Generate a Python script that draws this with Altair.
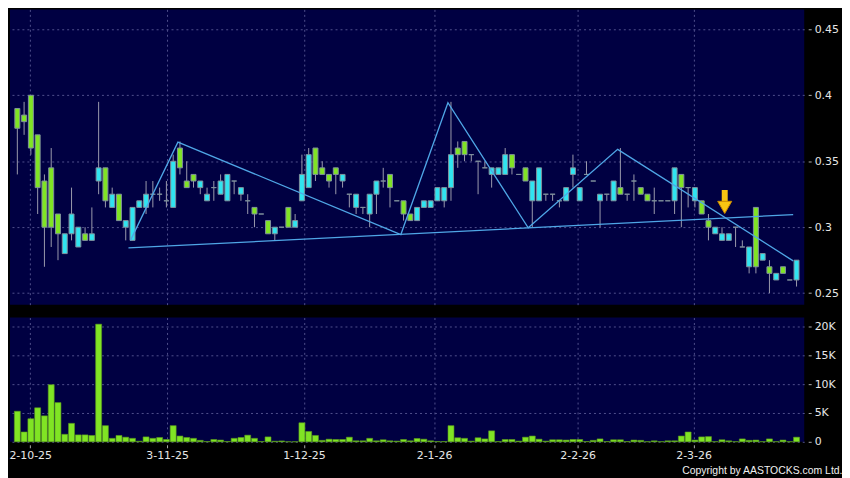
import altair as alt
import pandas as pd

# ---------------- data ----------------
opens = [0.39, 0.385, 0.40, 0.37, 0.335, 0.345, 0.31, 0.28, 0.295, 0.285,
         0.295, 0.29, 0.335, 0.345, 0.315, 0.325, 0.30, 0.29, 0.315, 0.315,
         0.325, 0.325, 0.32, 0.315, 0.36, 0.335, 0.34, 0.33, 0.32, 0.33,
         0.325, 0.32, 0.335, 0.325, 0.32, 0.315, 0.31, 0.305, 0.295, 0.30,
         0.315, 0.30, 0.32, 0.33, 0.36, 0.345, 0.34, 0.345, 0.335, 0.325,
         0.315, 0.315, 0.31, 0.325, 0.335, 0.34, 0.32, 0.32, 0.31, 0.305,
         0.315, 0.315, 0.32, 0.32, 0.33, 0.36, 0.365, 0.355, 0.35, 0.345,
         0.34, 0.34, 0.34, 0.355, 0.34, 0.345, 0.32, 0.32, 0.325, 0.325,
         0.32, 0.32, 0.34, 0.32, 0.34, 0.335, 0.32, 0.325, 0.32, 0.33,
         0.325, 0.335, 0.33, 0.325, 0.32, 0.32, 0.32, 0.32, 0.34, 0.33,
         0.32, 0.32, 0.305, 0.295, 0.29, 0.29, 0.30, 0.285, 0.27, 0.315,
         0.275, 0.27, 0.26, 0.27, 0.26, 0.26]
highs = [0.39, 0.395, 0.40, 0.37, 0.34, 0.36, 0.31, 0.295, 0.33, 0.30,
         0.30, 0.315, 0.395, 0.345, 0.33, 0.325, 0.305, 0.315, 0.32, 0.335,
         0.335, 0.33, 0.335, 0.355, 0.365, 0.35, 0.34, 0.335, 0.33, 0.335,
         0.34, 0.34, 0.335, 0.33, 0.325, 0.315, 0.31, 0.305, 0.30, 0.30,
         0.315, 0.31, 0.355, 0.36, 0.36, 0.35, 0.34, 0.345, 0.34, 0.325,
         0.325, 0.315, 0.325, 0.335, 0.345, 0.34, 0.32, 0.32, 0.31, 0.315,
         0.32, 0.32, 0.33, 0.33, 0.395, 0.365, 0.365, 0.355, 0.35, 0.35,
         0.345, 0.345, 0.36, 0.355, 0.34, 0.345, 0.335, 0.345, 0.325, 0.325,
         0.32, 0.33, 0.355, 0.33, 0.35, 0.335, 0.325, 0.325, 0.335, 0.36,
         0.325, 0.34, 0.33, 0.325, 0.33, 0.32, 0.32, 0.345, 0.34, 0.33,
         0.33, 0.32, 0.31, 0.30, 0.30, 0.295, 0.30, 0.29, 0.285, 0.315,
         0.28, 0.275, 0.265, 0.27, 0.26, 0.275]
lows = [0.34, 0.37, 0.355, 0.31, 0.27, 0.285, 0.275, 0.28, 0.29, 0.285,
        0.29, 0.29, 0.325, 0.315, 0.315, 0.305, 0.29, 0.29, 0.315, 0.31,
        0.315, 0.32, 0.315, 0.315, 0.34, 0.33, 0.33, 0.325, 0.32, 0.32,
        0.325, 0.32, 0.325, 0.32, 0.31, 0.30, 0.31, 0.295, 0.29, 0.30,
        0.30, 0.30, 0.32, 0.33, 0.335, 0.34, 0.33, 0.325, 0.33, 0.315,
        0.31, 0.31, 0.30, 0.31, 0.33, 0.315, 0.32, 0.305, 0.305, 0.305,
        0.315, 0.315, 0.32, 0.315, 0.32, 0.345, 0.35, 0.35, 0.325, 0.345,
        0.33, 0.34, 0.34, 0.34, 0.34, 0.335, 0.30, 0.32, 0.32, 0.32,
        0.315, 0.32, 0.33, 0.32, 0.34, 0.335, 0.30, 0.32, 0.32, 0.325,
        0.32, 0.32, 0.325, 0.32, 0.31, 0.32, 0.32, 0.31, 0.30, 0.315,
        0.315, 0.31, 0.29, 0.295, 0.29, 0.29, 0.285, 0.285, 0.265, 0.265,
        0.275, 0.25, 0.26, 0.265, 0.26, 0.255]
closes = [0.375, 0.38, 0.36, 0.33, 0.30, 0.30, 0.295, 0.295, 0.31, 0.30,
          0.29, 0.295, 0.345, 0.32, 0.325, 0.305, 0.305, 0.315, 0.32, 0.325,
          0.325, 0.325, 0.32, 0.35, 0.345, 0.33, 0.335, 0.335, 0.325, 0.33,
          0.335, 0.34, 0.335, 0.33, 0.32, 0.31, 0.31, 0.295, 0.30, 0.30,
          0.30, 0.305, 0.34, 0.355, 0.34, 0.34, 0.335, 0.34, 0.34, 0.325,
          0.325, 0.315, 0.325, 0.335, 0.335, 0.33, 0.32, 0.31, 0.305, 0.315,
          0.32, 0.32, 0.33, 0.33, 0.355, 0.355, 0.355, 0.355, 0.35, 0.345,
          0.345, 0.345, 0.355, 0.345, 0.34, 0.335, 0.335, 0.345, 0.325, 0.325,
          0.32, 0.33, 0.345, 0.33, 0.34, 0.335, 0.325, 0.325, 0.335, 0.325,
          0.325, 0.335, 0.325, 0.32, 0.32, 0.32, 0.32, 0.345, 0.33, 0.33,
          0.33, 0.31, 0.30, 0.30, 0.295, 0.295, 0.30, 0.285, 0.285, 0.27,
          0.28, 0.265, 0.265, 0.265, 0.26, 0.275]
volumes = [5300, 1700, 4000, 5900, 4500, 9900, 6800, 1300, 3200, 1200,
           1200, 1100, 20400, 2800, 600, 1100, 800, 600, 100, 850,
           600, 750, 400, 2800, 1000, 750, 600, 250, 50, 400,
           300, 60, 600, 750, 1150, 600, 50, 850, 100, 150,
           20, 20, 3300, 1800, 1100, 250, 450, 400, 400, 800,
           170, 170, 600, 170, 350, 170, 120, 400, 170, 575,
           450, 170, 50, 50, 2800, 700, 600, 120, 700, 500,
           1900, 50, 400, 400, 120, 800, 1000, 450, 120, 350,
           350, 300, 400, 400, 50, 250, 500, 50, 350, 350,
           50, 300, 250, 30, 170, 30, 170, 170, 1000, 1700,
           300, 850, 900, 30, 350, 170, 30, 500, 250, 300,
           30, 500, 30, 300, 30, 800]

date_pos = [1.9, 22.1, 42.3, 61.5, 82.7, 99.8]
date_labels = ["2-10-25", "3-11-25", "1-12-25", "2-1-26", "2-2-26", "2-3-26"]
price_ticks = [0.25, 0.275, 0.3, 0.325, 0.35, 0.375, 0.4, 0.425, 0.45]
volume_ticks = [0, 5000, 10000, 15000, 20000]

# hand-drawn trend lines (candle index, price)
zigzag_idx = [16.7, 23.7, 56.6, 63.55, 75.4, 88.6, 114.5]
zigzag_price = [0.290, 0.3645, 0.2944, 0.3944, 0.2995, 0.359, 0.2745]
base_idx = [16.4, 114.5]
base_price = [0.2843, 0.3095]

# down arrow marker
arrow_idx = [104.4]
arrow_top = [0.3282]
arrow_neck = [0.3180]
arrow_head = [0.3150]

# ---------------- styling ----------------
NAVY = "#000042"
CYAN = "#30e4f0"
GREEN = "#80e424"
WICK = "#9a9aac"
BODY_STROKE = "#7f909c"
GRID = "#50508c"
LINE = "#4fa6e6"
GOLD = "#f8c512"
FONT = "DejaVu Sans"

n = len(opens)
df = pd.DataFrame({
    "i": list(range(n)),
    "open": opens, "high": highs, "low": lows, "close": closes,
    "volume": volumes,
})
df["dir"] = ["up" if c > o else ("down" if c < o else "flat")
             for o, c in zip(opens, closes)]

lines_df = pd.DataFrame({
    "i": zigzag_idx + base_idx,
    "p": zigzag_price + base_price,
    "line": ["zig"] * len(zigzag_idx) + ["base"] * len(base_idx),
    "ord": list(range(len(zigzag_idx))) + list(range(len(base_idx))),
})
arrow_df = pd.DataFrame({"i": arrow_idx, "top": arrow_top,
                         "neck": arrow_neck, "head": arrow_head})

W = 799
x_min, x_max = -0.35, 115.4
x_scale = alt.Scale(domain=[x_min, x_max], nice=False, zero=False)
p_scale = alt.Scale(domain=[0.2413, 0.4651], nice=False, zero=False)
v_scale = alt.Scale(domain=[0, 21550], nice=False)

label_expr = "".join(
    f"abs(datum.value - {p}) < 0.01 ? '{l}' : " for p, l in zip(date_pos, date_labels)
) + "''"
first_tick_px = (date_pos[0] - x_min) / (x_max - x_min) * W

# ---------------- price panel ----------------
px_axis = alt.Axis(values=date_pos, labels=False, ticks=False, domain=False,
                   grid=True, title=None)
py_axis = alt.Axis(orient="right", values=price_ticks, format=".3~f", grid=True,
                   domain=False, tickSize=3, offset=4, labelPadding=3, title=None)

base = alt.Chart(df)
wicks = base.mark_rule(color=WICK, strokeWidth=1).encode(
    x=alt.X("i:Q", scale=x_scale, axis=px_axis),
    y=alt.Y("low:Q", scale=p_scale, axis=py_axis),
    y2="high:Q",
)
bodies = base.mark_bar(width=5, stroke=BODY_STROKE, strokeWidth=1).encode(
    x=alt.X("i:Q", scale=x_scale),
    y=alt.Y("open:Q", scale=p_scale),
    y2="close:Q",
    color=alt.Color("dir:N", legend=None,
                    scale=alt.Scale(domain=["up", "down", "flat"],
                                    range=[CYAN, GREEN, WICK])),
)
trend = alt.Chart(lines_df).mark_line(color=LINE, strokeWidth=1.3).encode(
    x=alt.X("i:Q", scale=x_scale),
    y=alt.Y("p:Q", scale=p_scale),
    detail="line:N",
    order="ord:Q",
)
shaft = alt.Chart(arrow_df).mark_rule(color=GOLD, strokeWidth=6).encode(
    x=alt.X("i:Q", scale=x_scale),
    y=alt.Y("top:Q", scale=p_scale),
    y2="neck:Q",
)
head = alt.Chart(arrow_df).mark_point(shape="triangle-down", size=200, filled=True,
                                      fill=GOLD, stroke="#c98a00", strokeWidth=1,
                                      opacity=1).encode(
    x=alt.X("i:Q", scale=x_scale),
    y=alt.Y("head:Q", scale=p_scale),
)
price = alt.layer(wicks, bodies, trend, shaft, head).properties(width=W, height=297)

# ---------------- volume panel ----------------
vx_axis = alt.Axis(values=date_pos, labelExpr=label_expr, grid=True, domain=False,
                   tickSize=3, offset=3, labelPadding=2,
                   labelFlush=20, labelFlushOffset=first_tick_px,
                   title="Copyright by AASTOCKS.com Ltd.", titleX=837, titleY=29,
                   titleAlign="right", titleBaseline="alphabetic",
                   titleFont="Liberation Sans",
                   titleFontSize=10.5, titleFontWeight="normal", titleColor="#f0f0f0")
vy_axis = alt.Axis(orient="right", values=volume_ticks,
                   labelExpr="datum.value == 0 ? '0' : (datum.value / 1000) + 'K'",
                   grid=True, domain=False, tickSize=3, offset=4, labelPadding=3,
                   title=None)
volume = alt.Chart(df).mark_bar(width=6, color=GREEN, stroke="#5c9c1c",
                                strokeWidth=0.6).encode(
    x=alt.X("i:Q", scale=x_scale, axis=vx_axis),
    y=alt.Y("volume:Q", scale=v_scale, axis=vy_axis),
).properties(width=W, height=125)

chart = alt.vconcat(price, volume, spacing=13).properties(
    padding=0,
    background="#000000",
).configure_view(
    fill=NAVY, strokeWidth=0,
).configure_axis(
    labelColor="#e6e6e6", labelFont=FONT, labelFontSize=11,
    tickColor="#aaaaaa", gridColor=GRID, gridDash=[2, 3], gridWidth=1,
)

chart.save("out.html", embed_options={"renderer": "svg", "actions": False})
